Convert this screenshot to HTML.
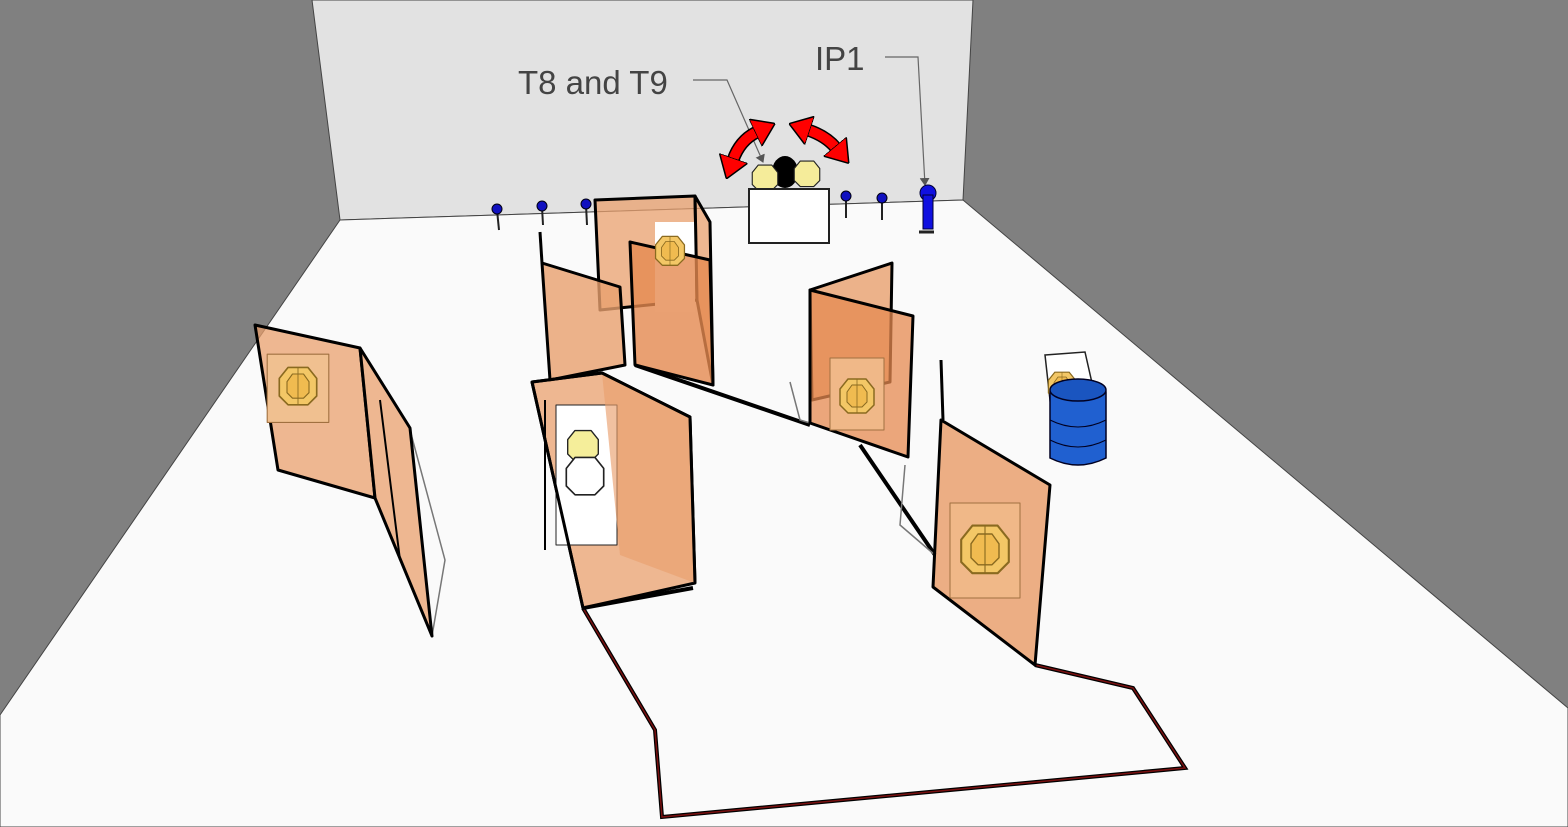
<!DOCTYPE html>
<html><head><meta charset="utf-8"><style>
html,body{margin:0;padding:0;width:1568px;height:827px;overflow:hidden;background:#808080}
svg{display:block}
text{font-family:"Liberation Sans",sans-serif}
</style></head><body>
<svg width="1568" height="827" viewBox="0 0 1568 827">
<defs>
<marker id="ah" markerWidth="8" markerHeight="10" refX="7" refY="5" orient="auto" markerUnits="userSpaceOnUse"><path d="M0,0 L8,5 L0,10 Z" fill="#555"/></marker>
<marker id="ra" markerWidth="22" markerHeight="30" refX="2" refY="15" orient="auto-start-reverse" markerUnits="userSpaceOnUse"><path d="M0,0 L22,15 L0,30 Z" fill="#f00" stroke="#000" stroke-width="1.5"/></marker>
<g id="tgt"><path d="M-9,-16 L9,-16 L17,-6 L17,10 L9,18 L-9,18 L-17,10 L-17,-6 Z" fill="#f3c766" stroke="#8a6a20" stroke-width="1.5"/><path d="M-5,-10 L5,-10 L10,-3 L10,7 L5,12 L-5,12 L-10,7 L-10,-3 Z" fill="#f0bb50" stroke="#8a6a20" stroke-width="1"/><line x1="0" y1="-16" x2="0" y2="18" stroke="#8a6a20" stroke-width="0.8"/></g>
</defs>
<rect width="1568" height="827" fill="#808080"/>
<polygon points="312,0 973,0 963,200 340,220" fill="#e2e2e2" stroke="#444" stroke-width="1"/>
<polygon points="340,220 963,200 1568,708 1568,827 0,827 0,715" fill="#fafafa" stroke="#444" stroke-width="1"/>

<text x="518" y="94" font-size="33" fill="#444">T8 and T9</text>
<text x="815" y="70" font-size="33" fill="#444">IP1</text>
<polyline points="693,80 727,80 763,162" fill="none" stroke="#666" stroke-width="1.2" marker-end="url(#ah)"/>
<polyline points="885,57 918,57 925,185" fill="none" stroke="#666" stroke-width="1.2" marker-end="url(#ah)"/>

<path d="M733,160 Q740,140 757,132" fill="none" stroke="#000" stroke-width="13"/>
<path d="M733,160 Q740,140 757,132" fill="none" stroke="#f00" stroke-width="10" marker-start="url(#ra)" marker-end="url(#ra)"/>
<path d="M808,130 Q826,136 836,148" fill="none" stroke="#000" stroke-width="13"/>
<path d="M808,130 Q826,136 836,148" fill="none" stroke="#f00" stroke-width="10" marker-start="url(#ra)" marker-end="url(#ra)"/>

<ellipse cx="785" cy="172" rx="13" ry="16" fill="#000"/>
<g transform="translate(765,177) scale(0.75)"><path d="M-9,-16 L9,-16 L17,-6 L17,10 L9,18 L-9,18 L-17,10 L-17,-6 Z" fill="#f5ec9a" stroke="#222" stroke-width="1.5"/></g>
<g transform="translate(807,173) scale(0.75)"><path d="M-9,-16 L9,-16 L17,-6 L17,10 L9,18 L-9,18 L-17,10 L-17,-6 Z" fill="#f5ec9a" stroke="#222" stroke-width="1.5"/></g>
<rect x="749" y="189" width="80" height="54" fill="#fff" stroke="#222" stroke-width="2"/>

<g stroke="#222" stroke-width="2">
<line x1="497" y1="210" x2="499" y2="230"/><line x1="542" y1="207" x2="543" y2="225"/><line x1="586" y1="205" x2="587" y2="225"/><line x1="846" y1="197" x2="846" y2="218"/><line x1="882" y1="200" x2="882" y2="220"/>
</g>
<g fill="#1010c0" stroke="#001" stroke-width="1"><circle cx="497" cy="209" r="5"/><circle cx="542" cy="206" r="5"/><circle cx="586" cy="204" r="5"/><circle cx="846" cy="196" r="5"/><circle cx="882" cy="198" r="5"/></g>
<circle cx="928" cy="193" r="8" fill="#1010e0" stroke="#003" stroke-width="1"/>
<rect x="923" y="195" width="10" height="34" fill="#1010e0" stroke="#003"/>
<line x1="919" y1="232" x2="934" y2="232" stroke="#222" stroke-width="3"/>

<g fill="none" stroke="#000" stroke-width="4">
<line x1="635" y1="365" x2="810" y2="425"/>
<line x1="860" y1="445" x2="935" y2="555"/>
</g>
<polyline points="583,608 655,730 662,817 1185,768 1133,688 1035,665" fill="none" stroke="#000" stroke-width="4"/>
<polyline points="583,608 655,730 662,817 1185,768 1133,688 1035,665" fill="none" stroke="#7a1010" stroke-width="1.5"/>
<line x1="583" y1="608" x2="693" y2="588" stroke="#000" stroke-width="4"/>
<g fill="none" stroke="#777" stroke-width="1.5">
<polyline points="790,382 800,420 810,423"/>
<polyline points="905,465 900,525 935,555"/>
<polyline points="410,430 445,560 432,636"/>
</g>

<g stroke="#000" stroke-width="3" stroke-linejoin="round">
<polygon points="255,325 360,348 375,498 278,470" fill="#e9a06e" fill-opacity="0.75"/>
<g transform="translate(298,385) scale(1.1)"><rect x="-28" y="-28" width="56" height="62" fill="#f0c090" stroke="#a07040" stroke-width="1"/><use href="#tgt"/></g>
<polygon points="360,348 410,428 432,636 375,498" fill="#e9a06e" fill-opacity="0.75"/>
<line x1="380" y1="400" x2="400" y2="560" stroke-width="2"/>

<polygon points="595,200 695,196 697,300 600,310" fill="#e9a06e" fill-opacity="0.75"/>
<rect x="655" y="222" width="40" height="90" fill="#fff" stroke="none"/>
<polygon points="695,196 710,222 713,385 697,300" fill="#e9a06e" fill-opacity="0.75"/>
<polygon points="630,242 710,260 713,385 635,365" fill="#e58a50" fill-opacity="0.8"/>
<g transform="translate(670,250) scale(0.85)"><use href="#tgt"/></g>
<line x1="540" y1="232" x2="542" y2="263"/>
<polygon points="542,263 620,287 625,365 550,380" fill="#e9a06e" fill-opacity="0.8"/>

<polygon points="810,290 892,263 890,382 812,400" fill="#e9a06e" fill-opacity="0.8"/>
<polygon points="810,290 913,316 908,457 810,423" fill="#e58a50" fill-opacity="0.75"/>
<g transform="translate(857,395)"><rect x="-27" y="-37" width="54" height="72" fill="#f0b888" stroke="#a07040" stroke-width="1"/><use href="#tgt"/></g>

<polygon points="532,382 602,373 690,417 695,583 583,608" fill="#e9a06e" fill-opacity="0.75"/>
<rect x="556" y="405" width="61" height="140" fill="#fff" stroke="#222" stroke-width="1"/>
<g transform="translate(583,445) scale(0.9)"><path d="M-9,-16 L9,-16 L17,-6 L17,10 L9,18 L-9,18 L-17,10 L-17,-6 Z" fill="#f5ee9a" stroke="#222" stroke-width="1.5"/></g>
<g transform="translate(585,475) scale(1.1)"><path d="M-9,-16 L9,-16 L17,-6 L17,10 L9,18 L-9,18 L-17,10 L-17,-6 Z" fill="#fff" stroke="#222" stroke-width="1.5"/></g>
<polygon points="602,373 690,417 695,583 620,555" fill="#e9a06e" fill-opacity="0.65" stroke="none"/>
<polyline points="532,382 602,373 690,417 695,583" fill="none"/>
<line x1="532" y1="382" x2="583" y2="608"/>
<line x1="545" y1="400" x2="545" y2="550" stroke-width="2"/>

<line x1="941" y1="360" x2="943" y2="420"/>
<polygon points="941,420 1050,485 1035,665 933,587" fill="#e9a06e" fill-opacity="0.85"/>
<g transform="translate(985,548)"><rect x="-35" y="-45" width="70" height="95" fill="#f0b888" stroke="#a07040" stroke-width="1"/><g transform="scale(1.4)"><use href="#tgt"/></g></g>
</g>

<polygon points="1045,355 1085,352 1097,405 1052,418" fill="#fff" stroke="#222" stroke-width="1.5"/>
<g transform="translate(1062,385) scale(0.8)"><use href="#tgt"/></g>
<path d="M1050,392 L1050,458 Q1078,472 1106,458 L1106,392 Z" fill="#2060d0" stroke="#002" stroke-width="1.5"/>
<ellipse cx="1078" cy="390" rx="28" ry="11" fill="#1a55c0" stroke="#002" stroke-width="1.5"/>
<path d="M1050,420 Q1078,434 1106,420 M1050,440 Q1078,454 1106,440" fill="none" stroke="#002" stroke-width="1"/>
</svg>
</body></html>
